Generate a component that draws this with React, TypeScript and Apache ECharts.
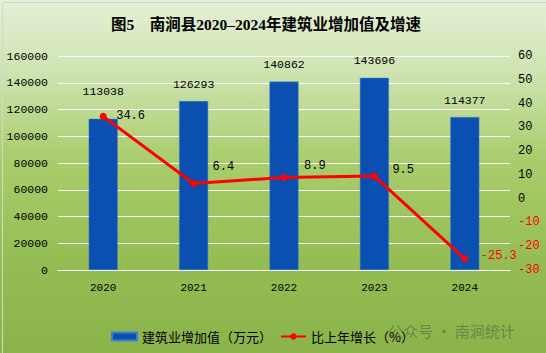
import React, { useEffect, useRef } from "react";
import * as echarts from "echarts";

const years = ["2020", "2021", "2022", "2023", "2024"];
const addedValue = [113038, 126293, 140862, 143696, 114377];
const growthRate = [34.6, 6.4, 8.9, 9.5, -25.3];
const titleText = "图5　南涧县2020–2024年建筑业增加值及增速";
const barName = "建筑业增加值（万元）";
const lineName = "比上年增长（%）";
const watermark = "公众号 · 南涧统计";

// label placement tweaks (layout only, not data)
const barLabelGap = [21, 11, 11, 11, 11];
const lineLabelShiftX = [4.5, 10.5, 11.5, 9.5, 7.5];
const lineLabelShiftY = [0, -16, -12, -6, -3];

const numFont = "'Liberation Mono', 'DejaVu Sans Mono', monospace";
const cjkFont = "'Noto Sans CJK SC', sans-serif";

export default function App() {
  const ref = useRef<HTMLDivElement>(null);
  useEffect(() => {
    document.body.style.margin = "0";
    const chart = echarts.init(ref.current!, null, { renderer: "svg" });
    chart.setOption({
      animation: false,
      backgroundColor: {
        type: "linear",
        x: 0,
        y: 0,
        x2: 0,
        y2: 1,
        colorStops: [
          { offset: 0, color: "#e4f0d6" },
          { offset: 0.2, color: "#cfe4b2" },
          { offset: 0.45, color: "#a9cd6c" },
          { offset: 0.75, color: "#93bd52" },
          { offset: 1, color: "#8ab349" },
        ],
      },
      title: {
        text: titleText,
        left: 106,
        top: 12,
        textStyle: {
          fontFamily: "'Liberation Serif', 'Noto Sans CJK SC', serif",
          fontWeight: "bold",
          fontSize: 15.5,
          color: "#000",
        },
      },
      legend: {
        left: 106,
        top: 325,
        itemWidth: 25,
        itemHeight: 8,
        itemGap: 8,
        textStyle: { fontFamily: cjkFont, fontSize: 13, color: "#000" },
        data: [
          { name: barName, icon: "rect" },
          { name: lineName },
        ],
      },
      grid: { left: 58, right: 36, top: 56, bottom: 83 },
      xAxis: {
        type: "category",
        data: years,
        axisLine: { show: true, lineStyle: { color: "rgba(255,255,255,0.95)", width: 1 } },
        axisTick: { show: false },
        axisLabel: { fontFamily: numFont, fontSize: 11, color: "#000", margin: 12 },
      },
      yAxis: [
        {
          type: "value",
          min: 0,
          max: 160000,
          interval: 20000,
          axisLine: { show: false },
          axisTick: { show: false },
          splitLine: { lineStyle: { color: "rgba(255,255,255,0.95)", width: 1 } },
          axisLabel: {
            fontFamily: numFont,
            fontSize: 11.5,
            color: "#000",
            margin: 10,
            formatter: (v: number) => String(v),
          },
        },
        {
          type: "value",
          min: -30,
          max: 60,
          interval: 10,
          axisLine: { show: false },
          axisTick: { show: false },
          splitLine: { show: false },
          axisLabel: {
            fontFamily: numFont,
            fontSize: 12,
            margin: 8,
            formatter: (v: number) => (v < 0 ? `{neg|${v}}` : `{pos|${v}}`),
            rich: {
              neg: { color: "#ff0000", fontFamily: numFont, fontSize: 12 },
              pos: { color: "#000", fontFamily: numFont, fontSize: 12 },
            },
          },
        },
      ],
      series: [
        {
          name: barName,
          type: "bar",
          yAxisIndex: 0,
          data: addedValue.map((v, i) => ({
            value: v,
            label: { distance: barLabelGap[i] },
          })),
          barWidth: 29,
          itemStyle: { color: "#0b4fb0", borderColor: "#3f7fd0", borderWidth: 0.5 },
          label: {
            show: true,
            position: "top",
            distance: 11,
            fontFamily: numFont,
            fontSize: 11.5,
            color: "#000",
          },
          z: 2,
        },
        {
          name: lineName,
          type: "line",
          yAxisIndex: 1,
          data: growthRate.map((v, i) => ({
            value: v,
            label: {
              color: v < 0 ? "#ff0000" : "#000",
              offset: [lineLabelShiftX[i], lineLabelShiftY[i]],
            },
          })),
          symbol: "circle",
          symbolSize: 7,
          lineStyle: { color: "#ff0000", width: 3 },
          itemStyle: { color: "#ff0000" },
          label: {
            show: true,
            position: "right",
            fontFamily: numFont,
            fontSize: 12,
          },
          z: 3,
        },
      ],
      graphic: [
        {
          type: "rect",
          left: 0,
          top: 0,
          shape: { width: 545, height: 352 },
          style: { fill: "none", stroke: "#d4d8cc", lineWidth: 1 },
          silent: true,
        },
        {
          type: "text",
          left: 388,
          top: 323,
          style: {
            text: watermark,
            fill: "rgba(80,90,70,0.55)",
            font: "15px 'Noto Sans CJK SC', sans-serif",
          },
          silent: true,
          z: 100,
        },
      ],
    });
    return () => chart.dispose();
  }, []);
  return (
    <div
      ref={ref}
      style={{ position: "absolute", left: 0, top: 0, width: 546, height: 353 }}
    />
  );
}
